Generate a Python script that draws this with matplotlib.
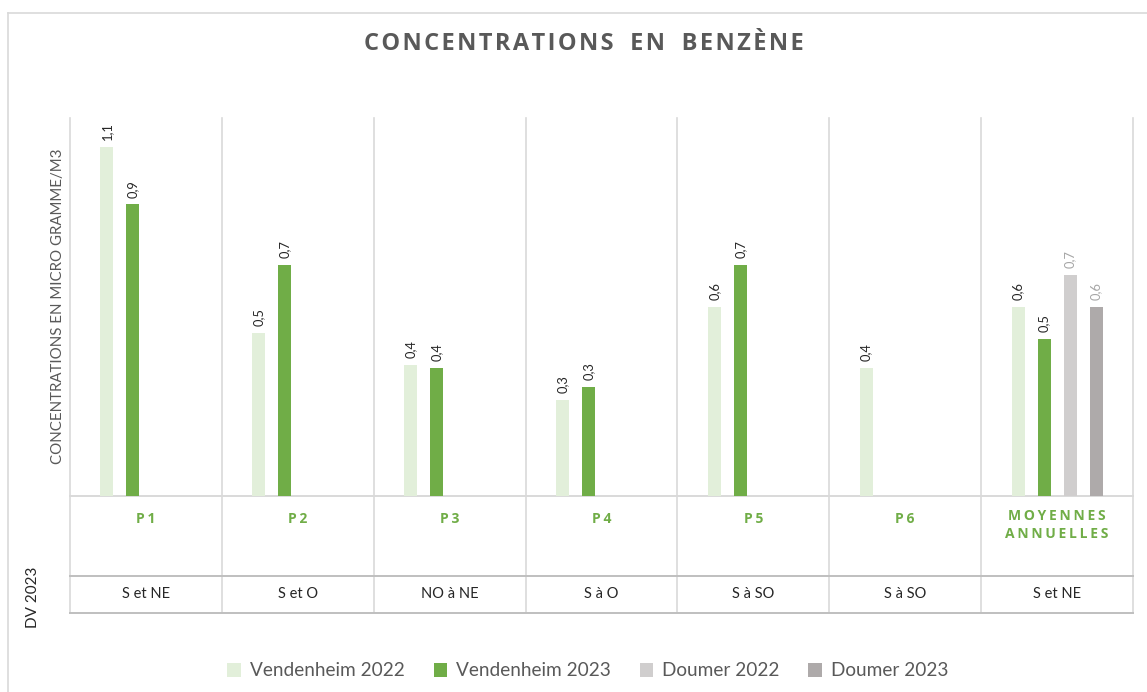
import numpy as np
import matplotlib
matplotlib.use("Agg")
import matplotlib.pyplot as plt
from matplotlib.lines import Line2D
from matplotlib.patches import Patch
from matplotlib.transforms import blended_transform_factory

# ---- data -------------------------------------------------------------
categories = ["P1", "P2", "P3", "P4", "P5", "P6", "MOYENNES\nANNUELLES"]
wind_dirs = ["S et NE", "S et O", "NO à NE", "S à O", "S à SO", "S à SO", "S et NE"]
vendenheim_2022 = [1.09, 0.51, 0.41, 0.30, 0.59, 0.40, 0.59]
vendenheim_2023 = [0.91, 0.72, 0.40, 0.34, 0.72, np.nan, 0.49]
doumer_2022 = [np.nan, np.nan, np.nan, np.nan, np.nan, np.nan, 0.69]
doumer_2023 = [np.nan, np.nan, np.nan, np.nan, np.nan, np.nan, 0.59]
series_names = ["Vendenheim 2022", "Vendenheim 2023", "Doumer 2022", "Doumer 2023"]
table_header = "DV 2023"

# ---- style ------------------------------------------------------------
colors = ["#E2EFDA", "#70AD47", "#D0CECE", "#AEAAAA"]
label_colors = ["#262626", "#262626", "#A6A6A6", "#A6A6A6"]
grid_col = "#D9D9D9"
text_grey = "#595959"
green = "#70AD47"
FONT = ["Lato", "DejaVu Sans"]
BOLD_FONT = ["Open Sans", "DejaVu Sans"]
plt.rcParams["font.family"] = FONT

W, H = 1147, 692
fig = plt.figure(figsize=(W / 100, H / 100), dpi=100)

# plot area in pixels
x0, x1, ytop, ybase = 70, 1133, 118, 496
ax = fig.add_axes([x0 / W, 1 - ybase / H, (x1 - x0) / W, (ybase - ytop) / H])
ax.set_xlim(-0.5, len(categories) - 0.5)
ax.set_ylim(0, 1.18)
ax.set_xticks([])
ax.set_yticks([])
for sp in ax.spines.values():
    sp.set_visible(False)

slot = 26 / 152
bar_w = 13 / 152
x = np.arange(len(categories))
all_series = [vendenheim_2022, vendenheim_2023, doumer_2022, doumer_2023]
for k, vals in enumerate(all_series):
    pos = x + (k - 1.5) * slot
    vals = np.asarray(vals, dtype=float)
    ax.bar(pos, vals, width=bar_w, color=colors[k], zorder=3)
    for p, v in zip(pos, vals):
        if np.isnan(v):
            continue
        ax.annotate(f"{v:.1f}".replace(".", ","), (p, v), xytext=(0, 5),
                    textcoords="offset points", rotation=90, ha="center",
                    va="bottom", fontsize=9.3, color=label_colors[k])

# separators between categories and the data table below the axis
trans = blended_transform_factory(ax.transData, ax.transAxes)
row_top = (ybase - 576) / (ybase - ytop)
row_bot = (ybase - 613) / (ybase - ytop)
for b in np.arange(len(categories) + 1) - 0.5:
    ax.plot([b, b], [row_bot, 1.0], transform=trans,
            color=grid_col, lw=1.2, clip_on=False, zorder=1)
for yy in (0.0, row_top, row_bot):
    ax.plot([-0.5, len(categories) - 0.5], [yy, yy], transform=trans,
            color=grid_col if yy == 0 else "#BFBFBF", lw=1.4, clip_on=False, zorder=2)


def spaced(s, sep="\u2009"):
    return "\n".join(sep.join(line) for line in s.split("\n"))


for i, c in enumerate(categories):
    yc = 519 if "\n" not in c else 525
    ax.text(i, (ybase - yc) / (ybase - ytop), spaced(c, "\u200a\u200a"),
            transform=trans, ha="center", va="center", fontsize=10,
            fontweight="bold", family=BOLD_FONT, color=green, linespacing=1.4)

row_mid = (row_top + row_bot) / 2
for i, t in enumerate(wind_dirs):
    ax.text(i, row_mid, t, transform=trans, ha="center", va="center",
            fontsize=10.5, color="#262626")

fig.text(33 / W, 1 - 597 / H, table_header, rotation=90, ha="center", va="center",
         fontsize=11, color="#262626")

# y axis title
fig.text(58 / W, 1 - 306 / H, "CONCENTRATIONS EN MICRO GRAMME/M3", rotation=90,
         ha="center", va="center", fontsize=10.8, color=text_grey)

# chart title
title = "\u2002\u2009".join(spaced(w, "\u200a") for w in ["CONCENTRATIONS", "EN", "BENZÈNE"])
fig.text(584 / W, 1 - 44 / H, title, ha="center", va="center", fontsize=17,
         fontweight="bold", family=BOLD_FONT, color=text_grey)

# outer frame (left and top edges)
fig.add_artist(Line2D([8 / W, 8 / W], [0, 1 - 13 / H], color=grid_col, lw=1.2))
fig.add_artist(Line2D([8 / W, 1], [1 - 13 / H, 1 - 13 / H], color=grid_col, lw=1.2))

handles = [Patch(facecolor=c, edgecolor="none") for c in colors]
fig.legend(handles, series_names, loc="center", bbox_to_anchor=(588 / W, 1 - 671 / H),
           ncol=4, frameon=False, fontsize=13.7, labelcolor=text_grey,
           handlelength=0.7, handleheight=0.7, handletextpad=0.5, columnspacing=1.5)

fig.savefig("out.png", dpi=100)
